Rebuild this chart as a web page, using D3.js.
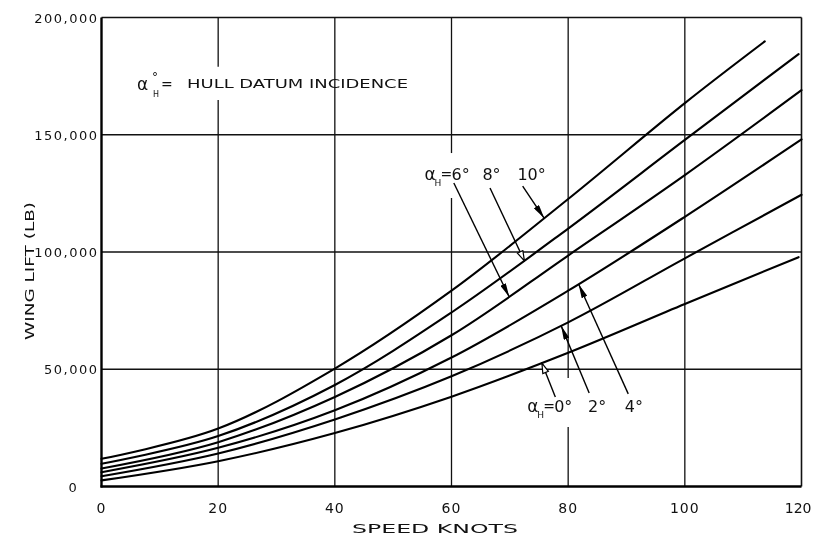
<!DOCTYPE html>
<html>
<head>
<meta charset="utf-8">
<script src="https://cdn.jsdelivr.net/npm/d3@7"></script>
<style>
  html, body { margin: 0; padding: 0; background: #fff; }
  svg { display: block; will-change: transform; }
  text { font-family: "DejaVu Sans", sans-serif; fill: #111; }
</style>
</head>
<body>
<svg id="chart" width="813" height="538"></svg>
<script>
// ---- data ----
const speeds = [0, 20, 40, 60, 80, 100];
const incidences = [0, 2, 4, 6, 8, 10];
const lift0  = [2600, 10800, 22800, 38300, 57000, 77800];
const lift2  = [4400, 14100, 28600, 47000, 70000, 97300];
const lift4  = [6100, 16500, 32500, 55000, 83500, 115000];
const lift6  = [7700, 18900, 38200, 64500, 98500, 132800];
const lift8  = [9700, 21500, 43300, 74200, 110000, 147800];
const lift10 = [11800, 24700, 50300, 83500, 122600, 163500];
const endSpeed = [119.5, 120, 120, 120, 119.5, 113.7];
const endLift  = [97800, 124400, 148000, 169000, 184400, 189800];
const xTicks = [0, 20, 40, 60, 80, 100, 120];
const xTickLabels = ["0", "20", "40", "60", "80", "100", "120"];
const yTicks = [0, 50000, 100000, 150000, 200000];
const yTickLabels = ["0", "50,000", "100,000", "150,000", "200,000"];
// speeds at which each annotation arrow touches its curve
const arrowTipSpeed = [75.5, 78.8, 81.8, 69.9, 72.5, 75.9];

const allLift = [lift0, lift2, lift4, lift6, lift8, lift10];

// ---- layout ----
const svg = d3.select("#chart");
const x = d3.scaleLinear().domain([0, 120]).range([101.5, 801.5]);
const y = d3.scaleLinear().domain([0, 200000]).range([486.5, 17.5]);

const series = incidences.map((inc, i) => ({
  inc,
  pts: speeds.map((s, j) => [s, allLift[i][j]]).concat([[endSpeed[i], endLift[i]]])
}));

// ---- grid ----
const gridGaps = { 20: [[164800, 179000]], 60: [[123000, 142200]], 80: [[25400, 46300]] };
const grid = svg.append("g").attr("stroke", "#111").attr("stroke-width", 1.3);
[20, 40, 60, 80, 100].forEach(v => {
  const gaps = (gridGaps[v] || []).slice().sort((a, b) => a[0] - b[0]);
  let start = 0;
  const segs = [];
  gaps.forEach(g => { segs.push([start, g[0]]); start = g[1]; });
  segs.push([start, 200000]);
  segs.forEach(sg => grid.append("line")
    .attr("x1", x(v)).attr("x2", x(v)).attr("y1", y(sg[0])).attr("y2", y(sg[1])));
});
[50000, 100000, 150000].forEach(v => grid.append("line")
  .attr("x1", x(0)).attr("x2", x(120)).attr("y1", y(v)).attr("y2", y(v)));

// border
svg.append("line").attr("x1", x(0)).attr("x2", x(120)).attr("y1", y(200000)).attr("y2", y(200000))
  .attr("stroke", "#111").attr("stroke-width", 1.6);
svg.append("line").attr("x1", x(120)).attr("x2", x(120)).attr("y1", y(0)).attr("y2", y(200000))
  .attr("stroke", "#111").attr("stroke-width", 1.6);
svg.append("line").attr("x1", x(0)).attr("x2", x(0)).attr("y1", y(0) + 1).attr("y2", y(200000))
  .attr("stroke", "#000").attr("stroke-width", 2.4);
svg.append("line").attr("x1", x(0) - 1).attr("x2", x(120)).attr("y1", y(0)).attr("y2", y(0))
  .attr("stroke", "#000").attr("stroke-width", 2.4);

// ---- axes labels ----
xTicks.forEach((t, i) => {
  const last = i === xTicks.length - 1;
  svg.append("text")
    .attr("x", last ? x(t) + 10 : x(t)).attr("y", y(0) + 26)
    .attr("text-anchor", last ? "end" : "middle")
    .attr("font-size", 14).attr("letter-spacing", last ? 0 : 1)
    .text(xTickLabels[i]);
});
yTicks.forEach((t, i) => {
  const tx = svg.append("text")
    .attr("y", y(t) + 5)
    .attr("font-size", 13).attr("letter-spacing", 1.5)
    .text(yTickLabels[i]);
  if (t === 0) tx.attr("x", x(0) - 28).attr("text-anchor", "middle");
  else tx.attr("x", x(0) - 3).attr("text-anchor", "end");
});
svg.append("text")
  .attr("x", 352).attr("y", 533).attr("font-size", 13)
  .attr("textLength", 166).attr("lengthAdjust", "spacingAndGlyphs")
  .text("SPEED KNOTS");
svg.append("text")
  .attr("transform", "translate(34,340) rotate(-90)")
  .attr("font-size", 12.5).attr("textLength", 138).attr("lengthAdjust", "spacingAndGlyphs")
  .text("WING LIFT (LB)");

// hull datum legend text
const leg = svg.append("g");
leg.append("text").attr("x", 137).attr("y", 90).attr("font-size", 17).text("α");
leg.append("text").attr("x", 152).attr("y", 81).attr("font-size", 12).text("°");
leg.append("text").attr("x", 153).attr("y", 97).attr("font-size", 8).attr("fill", "#000").text("H");
leg.append("text").attr("x", 161).attr("y", 89).attr("font-size", 14).text("=");
leg.append("text").attr("x", 187).attr("y", 88).attr("font-size", 12.5)
  .attr("textLength", 221).attr("lengthAdjust", "spacingAndGlyphs").text("HULL DATUM INCIDENCE");

// ---- curves ----
const line = d3.line().x(d => x(d[0])).y(d => y(d[1])).curve(d3.curveCatmullRom.alpha(0.5));
const paths = series.map(s => svg.append("path")
  .datum(s.pts).attr("d", line)
  .attr("fill", "none").attr("stroke", "#000").attr("stroke-width", 2.1)
  .attr("stroke-linecap", "round").node());

function yOnPath(node, px) {
  let lo = 0, hi = node.getTotalLength();
  for (let k = 0; k < 40; k++) {
    const mid = (lo + hi) / 2;
    if (node.getPointAtLength(mid).x < px) lo = mid; else hi = mid;
  }
  return node.getPointAtLength((lo + hi) / 2).y;
}

// ---- annotations ----
const defs = svg.append("defs");
defs.append("marker").attr("id", "ahF").attr("viewBox", "0 0 14 6")
  .attr("refX", 14).attr("refY", 3).attr("markerWidth", 14).attr("markerHeight", 6)
  .attr("markerUnits", "userSpaceOnUse").attr("orient", "auto")
  .append("path").attr("d", "M0,0 L14,3 L0,6 Z").attr("fill", "#000");
defs.append("marker").attr("id", "ahO").attr("viewBox", "0 0 12 8")
  .attr("refX", 11).attr("refY", 4).attr("markerWidth", 12).attr("markerHeight", 8)
  .attr("markerUnits", "userSpaceOnUse").attr("orient", "auto")
  .append("path").attr("d", "M1,1 L11,4 L1,7 Z").attr("fill", "#fff").attr("stroke", "#000").attr("stroke-width", 1.2);

// arrow tails in data units (speed, lift)
const tailSpeed = [77.8, 83.6, 90.3, 60.4, 66.6, 72.2];
const tailLift = [38200, 39900, 39500, 129400, 127300, 128100];
const headType = ["ahO", "ahF", "ahF", "ahF", "ahO", "ahF"];
series.forEach((s, i) => {
  const tx = x(arrowTipSpeed[i]);
  const ty = yOnPath(paths[i], tx);
  svg.append("line")
    .attr("x1", x(tailSpeed[i])).attr("y1", y(tailLift[i]))
    .attr("x2", tx).attr("y2", ty)
    .attr("stroke", "#000").attr("stroke-width", 1.4)
    .attr("marker-end", `url(#${headType[i]})`);
});

// degree labels
const labelSpeed = [77.6, 83.4, 89.7, 60.0, 65.3, 71.3];
const labelLift = [31600, 31600, 31600, 130700, 130700, 130700];
series.forEach((s, i) => {
  svg.append("text").attr("x", x(labelSpeed[i])).attr("y", y(labelLift[i]))
    .attr("font-size", 16).text(s.inc + "°");
});
// alpha-H = prefixes
[0, 3].forEach(i => {
  const g = svg.append("g").attr("transform", `translate(${x(labelSpeed[i])},${y(labelLift[i])})`);
  g.append("text").attr("x", -27).attr("y", 0).attr("font-size", 17).text("α");
  g.append("text").attr("x", -17).attr("y", 6).attr("font-size", 9).attr("fill", "#000").text("H");
  g.append("text").attr("x", -11).attr("y", -1).attr("font-size", 14).text("=");
});
</script>
</body>
</html>
